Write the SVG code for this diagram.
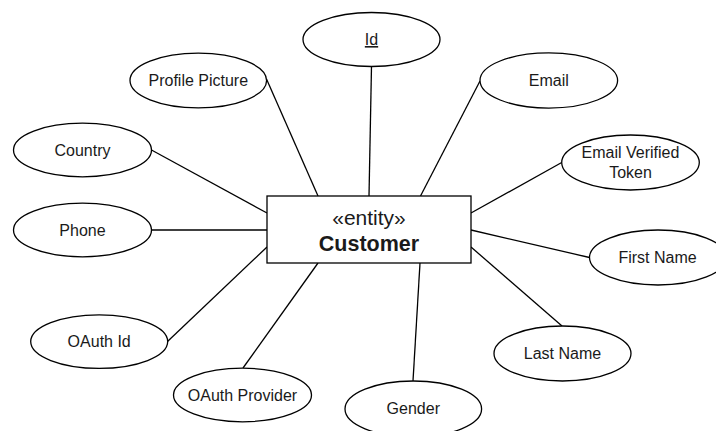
<svg xmlns="http://www.w3.org/2000/svg" width="716" height="431" viewBox="0 0 716 431">
  <style>
    .attr ellipse { fill: #ffffff; stroke: #000000; stroke-width: 1.3; }
    .attr text, .entity text { font-family: "Liberation Sans", Arial, sans-serif; font-size: 16px; fill: #1a1a1a; text-anchor: middle; }
    .entity rect { fill: #ffffff; stroke: #000000; stroke-width: 1.3; }
    #connectors line { stroke: #000000; stroke-width: 1.3; }
  </style>
  <rect width="716" height="431" fill="#ffffff"/>

  <!-- links from the entity to its attributes -->
  <g id="connectors">
    <line x1="371.5" y1="66" x2="369" y2="196"/>
    <line x1="266.5" y1="79" x2="318" y2="196"/>
    <line x1="480" y1="81" x2="420.5" y2="196"/>
    <line x1="151.5" y1="150" x2="267" y2="213"/>
    <line x1="151.5" y1="230" x2="267" y2="230"/>
    <line x1="167.5" y1="341.5" x2="267" y2="247"/>
    <line x1="243" y1="368" x2="318" y2="263"/>
    <line x1="413" y1="381" x2="420" y2="263"/>
    <line x1="562" y1="326" x2="471" y2="247"/>
    <line x1="589.5" y1="257.5" x2="471" y2="230"/>
    <line x1="561.7" y1="162.5" x2="471" y2="213"/>
  </g>

  <!-- entity -->
  <g id="customer" class="entity">
    <rect x="267" y="196" width="204" height="67"/>
    <text x="369" y="225" style="font-size:21px">«entity»</text>
    <text x="369" y="251" style="font-size:21.5px;font-weight:bold">Customer</text>
  </g>

  <!-- attributes -->
  <g id="attr-id" class="attr">
    <ellipse cx="371.5" cy="39.5" rx="68.5" ry="27"/>
    <text x="371.5" y="45" text-decoration="underline">Id</text>
  </g>
  <g id="attr-profile-picture" class="attr">
    <ellipse cx="198.3" cy="80.5" rx="68.3" ry="27.3"/>
    <text x="198.3" y="86">Profile Picture</text>
  </g>
  <g id="attr-email" class="attr">
    <ellipse cx="548.8" cy="80.5" rx="68.8" ry="27.6"/>
    <text x="548.8" y="86">Email</text>
  </g>
  <g id="attr-country" class="attr">
    <ellipse cx="82.5" cy="150" rx="69" ry="26.8"/>
    <text x="82.5" y="155.5">Country</text>
  </g>
  <g id="attr-email-verified-token" class="attr">
    <ellipse cx="630.5" cy="162.5" rx="68.8" ry="27.5"/>
    <text x="630.5" y="157.5">Email Verified</text>
    <text x="630.5" y="177.5">Token</text>
  </g>
  <g id="attr-phone" class="attr">
    <ellipse cx="82.5" cy="230" rx="69" ry="26.8"/>
    <text x="82.5" y="235.5">Phone</text>
  </g>
  <g id="attr-first-name" class="attr">
    <ellipse cx="658" cy="257.5" rx="68.5" ry="27.5"/>
    <text x="657.5" y="263">First Name</text>
  </g>
  <g id="attr-oauth-id" class="attr">
    <ellipse cx="99.2" cy="341.6" rx="68.5" ry="26.8"/>
    <text x="99.2" y="347">OAuth Id</text>
  </g>
  <g id="attr-last-name" class="attr">
    <ellipse cx="562.5" cy="353.5" rx="68.5" ry="27.5"/>
    <text x="562.5" y="359">Last Name</text>
  </g>
  <g id="attr-oauth-provider" class="attr">
    <ellipse cx="242.5" cy="395" rx="69" ry="26.8"/>
    <text x="242.5" y="400.5">OAuth Provider</text>
  </g>
  <g id="attr-gender" class="attr">
    <ellipse cx="413.3" cy="409" rx="68.3" ry="28"/>
    <text x="413.3" y="414">Gender</text>
  </g>
</svg>
